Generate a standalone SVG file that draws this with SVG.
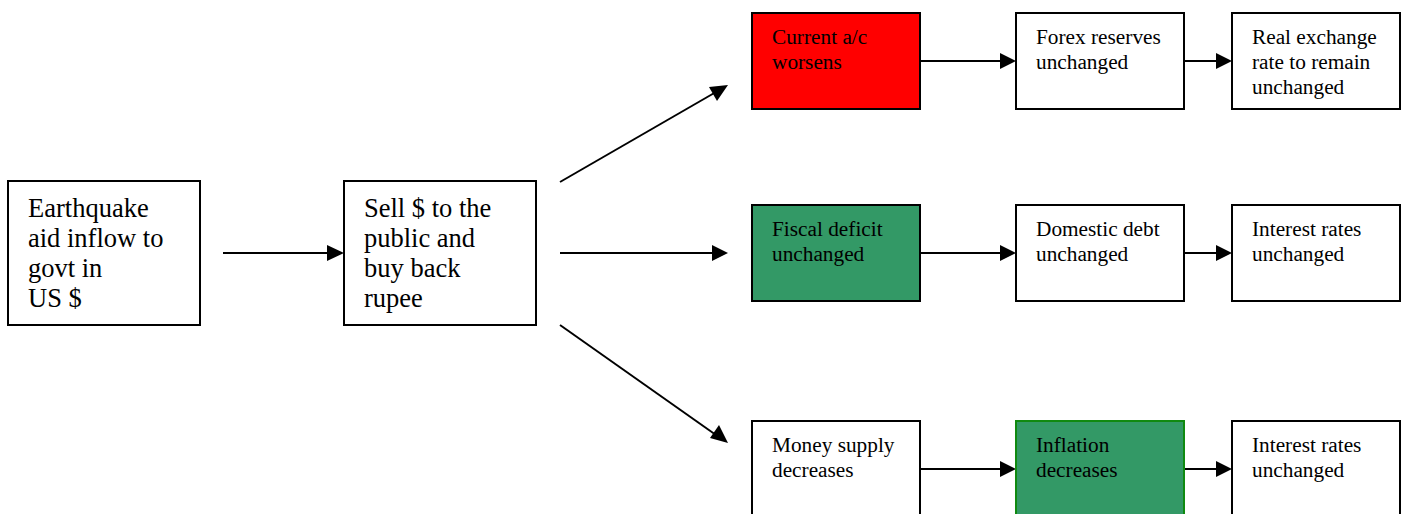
<svg xmlns="http://www.w3.org/2000/svg" width="1411" height="514" viewBox="0 0 1411 514">
  <style>
    .box { fill: #ffffff; stroke: #000000; stroke-width: 2; }
    .red { fill: #ff0000; }
    .green { fill: #339966; }
    .greenline { stroke: #108a10; }
    .big { font-family: "Liberation Serif", "Times New Roman", serif; font-size: 26.5px; fill: #000; }
    .small { font-family: "Liberation Serif", "Times New Roman", serif; font-size: 21.3px; fill: #000; }
    .line { stroke: #000; stroke-width: 2; fill: none; }
    .head { fill: #000; }
  </style>
  <rect width="1411" height="514" fill="#ffffff"/>

  <g id="connectors">
    <line class="line" x1="223" y1="253" x2="328" y2="253"/>
    <path class="head" d="M327,245 L344,253 L327,261 z"/>
    <line class="line" x1="560" y1="182" x2="716" y2="92"/>
    <path class="head" d="M728,85 L717,101 L709,87 z"/>
    <line class="line" x1="560" y1="253" x2="712" y2="253"/>
    <path class="head" d="M712,245 L728,253 L712,261 z"/>
    <line class="line" x1="560" y1="325" x2="716" y2="435"/>
    <path class="head" d="M728,443 L710,438 L719,425 z"/>

    <line class="line" x1="920" y1="61" x2="1000" y2="61"/>
    <path class="head" d="M1000,53 L1016,61 L1000,69 z"/>
    <line class="line" x1="1184" y1="61" x2="1216" y2="61"/>
    <path class="head" d="M1216,53 L1232,61 L1216,69 z"/>

    <line class="line" x1="920" y1="253" x2="1000" y2="253"/>
    <path class="head" d="M1000,245 L1016,253 L1000,261 z"/>
    <line class="line" x1="1184" y1="253" x2="1216" y2="253"/>
    <path class="head" d="M1216,245 L1232,253 L1216,261 z"/>

    <line class="line" x1="920" y1="469" x2="1000" y2="469"/>
    <path class="head" d="M1000,461 L1016,469 L1000,477 z"/>
    <line class="line" x1="1184" y1="469" x2="1216" y2="469"/>
    <path class="head" d="M1216,461 L1232,469 L1216,477 z"/>
  </g>

  <g id="aid-inflow">
    <rect class="box" x="8" y="181" width="192" height="144"/>
    <text class="big" x="28" y="217">Earthquake</text>
    <text class="big" x="28" y="247">aid inflow to</text>
    <text class="big" x="28" y="277">govt in</text>
    <text class="big" x="28" y="307">US $</text>
  </g>

  <g id="sell-dollars">
    <rect class="box" x="344" y="181" width="192" height="144"/>
    <text class="big" x="364" y="217">Sell $ to the</text>
    <text class="big" x="364" y="247">public and</text>
    <text class="big" x="364" y="277">buy back</text>
    <text class="big" x="364" y="307">rupee</text>
  </g>

  <g id="current-account">
    <rect class="box red" x="752" y="13" width="168" height="96"/>
    <text class="small" x="772" y="44">Current a/c</text>
    <text class="small" x="772" y="69">worsens</text>
  </g>
  <g id="forex-reserves">
    <rect class="box" x="1016" y="13" width="168" height="96"/>
    <text class="small" x="1036" y="44">Forex reserves</text>
    <text class="small" x="1036" y="69">unchanged</text>
  </g>
  <g id="real-exchange-rate">
    <rect class="box" x="1232" y="13" width="168" height="96"/>
    <text class="small" x="1252" y="44">Real exchange</text>
    <text class="small" x="1252" y="69">rate to remain</text>
    <text class="small" x="1252" y="94">unchanged</text>
  </g>

  <g id="fiscal-deficit">
    <rect class="box green" x="752" y="205" width="168" height="96"/>
    <text class="small" x="772" y="236">Fiscal deficit</text>
    <text class="small" x="772" y="261">unchanged</text>
  </g>
  <g id="domestic-debt">
    <rect class="box" x="1016" y="205" width="168" height="96"/>
    <text class="small" x="1036" y="236">Domestic debt</text>
    <text class="small" x="1036" y="261">unchanged</text>
  </g>
  <g id="interest-rates-debt">
    <rect class="box" x="1232" y="205" width="168" height="96"/>
    <text class="small" x="1252" y="236">Interest rates</text>
    <text class="small" x="1252" y="261">unchanged</text>
  </g>

  <g id="money-supply">
    <rect class="box" x="752" y="421" width="168" height="110"/>
    <text class="small" x="772" y="452">Money supply</text>
    <text class="small" x="772" y="477">decreases</text>
  </g>
  <g id="inflation">
    <rect class="box green greenline" x="1016" y="421" width="168" height="110"/>
    <text class="small" x="1036" y="452">Inflation</text>
    <text class="small" x="1036" y="477">decreases</text>
  </g>
  <g id="interest-rates-inflation">
    <rect class="box" x="1232" y="421" width="168" height="110"/>
    <text class="small" x="1252" y="452">Interest rates</text>
    <text class="small" x="1252" y="477">unchanged</text>
  </g>
</svg>
